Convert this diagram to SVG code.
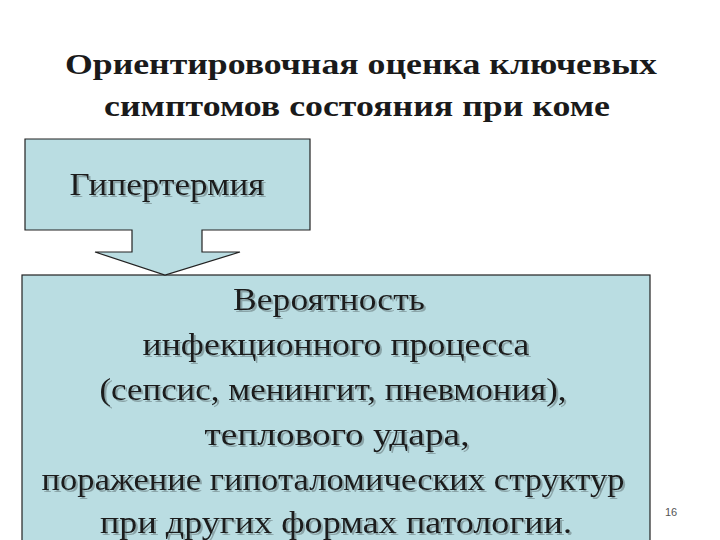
<svg xmlns="http://www.w3.org/2000/svg" width="720" height="540" viewBox="0 0 720 540">
<defs>
<filter id="ds" x="-5%" y="-20%" width="110%" height="140%">
<feDropShadow dx="2" dy="2" stdDeviation="0.6" flood-color="#7f9699" flood-opacity="0.8"/>
</filter>
</defs>
<style>
.title{font-family:"Liberation Serif",serif;font-weight:bold;font-size:30px;fill:#1a1a1a;text-anchor:middle}
.body{font-family:"Liberation Serif",serif;font-size:32px;fill:#1a1a1a;text-anchor:middle}
.box{fill:#badde2;stroke:#222;stroke-width:1.2}
</style>
<rect width="720" height="540" fill="#ffffff"/>
<g id="title">
<text class="title" x="361" y="74" textLength="592" lengthAdjust="spacingAndGlyphs">Ориентировочная оценка ключевых</text>
<text class="title" x="357" y="116" textLength="506" lengthAdjust="spacingAndGlyphs">симптомов состояния при коме</text>
</g>
<g id="result">
<rect class="box" x="22" y="275" width="628" height="270"/>
<g filter="url(#ds)">
<text class="body" x="329" y="310" textLength="192" lengthAdjust="spacingAndGlyphs">Вероятность</text>
<text class="body" x="336" y="355" textLength="387" lengthAdjust="spacingAndGlyphs">инфекционного процесса</text>
<text class="body" x="333" y="400" textLength="467" lengthAdjust="spacingAndGlyphs">(сепсис, менингит, пневмония),</text>
<text class="body" x="337" y="445" textLength="265" lengthAdjust="spacingAndGlyphs">теплового удара,</text>
<text class="body" x="333" y="490" textLength="583" lengthAdjust="spacingAndGlyphs">поражение гипоталомических структур</text>
<text class="body" x="336" y="533" textLength="472" lengthAdjust="spacingAndGlyphs">при других формах патологии.</text>
</g>
</g>
<g id="hyperthermia">
<path class="box" d="M25,139 H310 V230 H202 V252 H240 L165,275 L95,252 H132 V230 H25 Z"/>
<text class="body" x="167" y="195" textLength="195" lengthAdjust="spacingAndGlyphs" filter="url(#ds)">Гипертермия</text>
</g>
<g id="connectors"></g>
<text x="665" y="516" font-family="Liberation Sans, sans-serif" font-size="11" fill="#555">16</text>
</svg>
